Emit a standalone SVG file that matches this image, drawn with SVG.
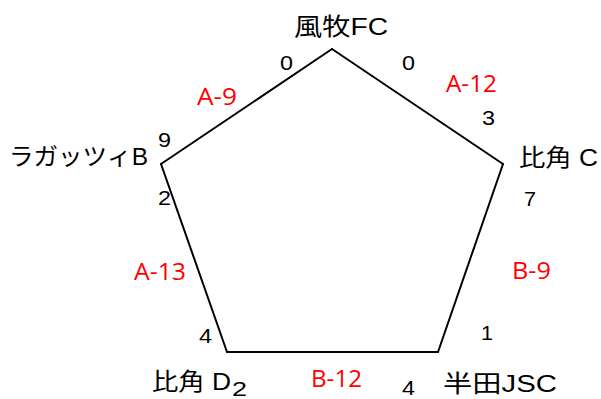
<svg xmlns="http://www.w3.org/2000/svg" width="601" height="399" viewBox="0 0 601 399">
<style>
.name{font-family:"Liberation Sans","Noto Sans CJK JP",sans-serif;font-size:24px;fill:#000}
.num{font-family:"Liberation Sans",sans-serif;font-size:21px;fill:#000}
.lbl{font-family:"Open Sans","Liberation Sans",sans-serif;font-size:23px;fill:#FF0000}
.edge{stroke:#000;stroke-width:2;fill:none;stroke-linecap:round}
</style>
<rect width="601" height="399" fill="#fff"/>
<g id="connectors">
<line class="edge" x1="332" y1="49" x2="503" y2="164"/>
<line class="edge" x1="503" y1="164" x2="438" y2="352"/>
<line class="edge" x1="438" y1="352" x2="227" y2="352"/>
<line class="edge" x1="227" y1="352" x2="161" y2="164"/>
<line class="edge" x1="161" y1="164" x2="332" y2="49"/>
<text class="lbl" x="197" y="105" textLength="40" lengthAdjust="spacingAndGlyphs">A-9</text>
<text class="lbl" x="446" y="92" textLength="51" lengthAdjust="spacingAndGlyphs">A-12</text>
<text class="lbl" x="134" y="280" textLength="52" lengthAdjust="spacingAndGlyphs">A-13</text>
<text class="lbl" x="512" y="279" textLength="39" lengthAdjust="spacingAndGlyphs">B-9</text>
<text class="lbl" x="311" y="387" textLength="51" lengthAdjust="spacingAndGlyphs">B-12</text>
</g>
<g id="node-fumaki">
<text class="name" x="294" y="35" textLength="94" lengthAdjust="spacingAndGlyphs">風牧FC</text>
<text class="num" x="280" y="70" textLength="13" lengthAdjust="spacingAndGlyphs">0</text>
<text class="num" x="402" y="70" textLength="13" lengthAdjust="spacingAndGlyphs">0</text>
</g>
<g id="node-hikaku-c">
<text class="name" x="519" y="166" textLength="79" lengthAdjust="spacingAndGlyphs">比角 C</text>
<text class="num" x="482" y="125" textLength="13" lengthAdjust="spacingAndGlyphs">3</text>
<text class="num" x="524" y="206" textLength="12" lengthAdjust="spacingAndGlyphs">7</text>
</g>
<g id="node-handa">
<text class="name" x="443" y="392" textLength="114" lengthAdjust="spacingAndGlyphs">半田JSC</text>
<text class="num" x="481" y="340" textLength="12" lengthAdjust="spacingAndGlyphs">1</text>
<text class="num" x="402" y="395" textLength="13" lengthAdjust="spacingAndGlyphs">4</text>
</g>
<g id="node-hikaku-d">
<text class="name" x="152" y="390" textLength="79" lengthAdjust="spacingAndGlyphs">比角 D</text>
<text class="num" x="199" y="343" textLength="13" lengthAdjust="spacingAndGlyphs">4</text>
<text class="num" x="232" y="396" textLength="15" lengthAdjust="spacingAndGlyphs">2</text>
</g>
<g id="node-ragazzi">
<text class="name" x="9" y="165" textLength="139" lengthAdjust="spacingAndGlyphs">ラガッツィB</text>
<text class="num" x="158" y="147" textLength="13" lengthAdjust="spacingAndGlyphs">9</text>
<text class="num" x="158" y="205" textLength="13" lengthAdjust="spacingAndGlyphs">2</text>
</g>
</svg>
